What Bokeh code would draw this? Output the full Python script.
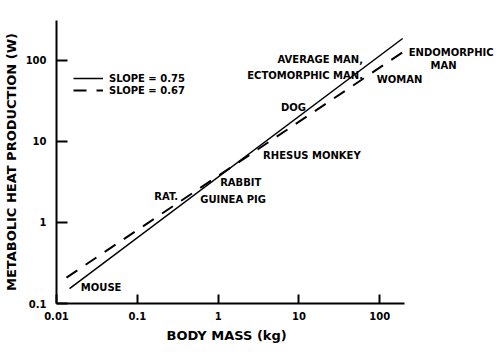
from bokeh.plotting import figure
from bokeh.models import (FixedTicker, CustomJSTickFormatter, Label, Legend,
                          LegendItem, Range1d, Title)
from bokeh.embed import file_html
from bokeh.resources import INLINE

# ---------------- data ----------------
# fitted allometric lines, given by their two end points
slope075_mass_kg = [0.0145, 192.0]
slope075_heat_w = [0.153, 186.0]
slope067_mass_kg = [0.0133, 209.0]
slope067_heat_w = [0.209, 133.0]

series_names = ["SLOPE = 0.75", "SLOPE = 0.67"]

x_tick_values = [0.01, 0.1, 1, 10, 100]
y_tick_values = [0.1, 1, 10, 100]

animal_names = ["MOUSE", "RAT.", "RABBIT", "GUINEA PIG", "RHESUS MONKEY", "DOG",
                "AVERAGE MAN,", "ECTOMORPHIC MAN.", "WOMAN", "ENDOMORPHIC", "MAN"]

# ---------------- layout of the annotation labels ----------------
label_x_kg = [0.02, 0.32, 1.06, 0.60, 3.6, 6.0, 62.0, 62.0, 92.0, 228.0, 617.0]
label_y_w = [0.158, 2.1, 3.12, 1.92, 6.7, 26.3, 103.0, 65.3, 58.2, 125.6, 86.7]
label_align = ["left", "right", "left", "left", "left", "left",
               "right", "right", "left", "left", "center"]

FONT = "DejaVu Sans"

p = figure(width=500, height=357, x_axis_type="log", y_axis_type="log",
           x_range=Range1d(0.01, 3120), y_range=Range1d(0.1, 310),
           output_backend="svg", toolbar_location=None,
           min_border_left=55, min_border_right=0,
           min_border_top=20, min_border_bottom=54)
p.outline_line_color = None
p.grid.visible = False
p.background_fill_color = "white"
p.border_fill_color = "white"

for ax, ticks in ((p.xaxis[0], x_tick_values), (p.yaxis[0], y_tick_values)):
    ax.ticker = FixedTicker(ticks=ticks, minor_ticks=[])
    ax.formatter = CustomJSTickFormatter(code="return tick.toString()")
    ax.axis_line_width = 2
    ax.axis_line_color = "black"
    ax.major_tick_line_width = 2
    ax.major_tick_line_color = "black"
    ax.major_tick_out = 0
    ax.minor_tick_line_color = None
    ax.major_label_text_font = FONT
    ax.major_label_text_font_size = "10px"
    ax.major_label_text_font_style = "bold"
    ax.major_label_text_color = "black"

p.xaxis.bounds = (0.01, 200)
p.xaxis.major_tick_in = 9
p.yaxis.major_tick_in = 11
p.xaxis.major_label_standoff = 8
p.yaxis.major_label_standoff = 10

p.yaxis.axis_label = "METABOLIC HEAT PRODUCTION (W)"
p.yaxis.axis_label_standoff = 4
p.yaxis.axis_label_text_font = FONT
p.yaxis.axis_label_text_font_size = "13px"
p.yaxis.axis_label_text_font_style = "bold"
p.yaxis.axis_label_text_color = "black"

xtitle = Title(text="BODY MASS (kg)", align="left", offset=110, standoff=6,
               text_font=FONT, text_font_size="13px", text_font_style="bold",
               text_color="black")
p.add_layout(xtitle, "below")

r1 = p.line(slope075_mass_kg, slope075_heat_w, line_color="black", line_width=1.5)
r2 = p.line(slope067_mass_kg, slope067_heat_w, line_color="black", line_width=2,
            line_dash="13 10")

legend = Legend(items=[LegendItem(label=series_names[0], renderers=[r1]),
                       LegendItem(label=series_names[1], renderers=[r2])],
                location=(17, 207), glyph_width=30, glyph_height=12,
                label_height=12, label_standoff=6, spacing=0, padding=0,
                margin=0, border_line_color=None, background_fill_alpha=0,
                label_text_font=FONT, label_text_font_size="10px",
                label_text_font_style="bold", label_text_color="black")
p.add_layout(legend)

for name, lx, ly, al in zip(animal_names, label_x_kg, label_y_w, label_align):
    p.add_layout(Label(x=lx, y=ly, text=name, text_align=al,
                       text_baseline="middle", text_font=FONT,
                       text_font_size="10px", text_font_style="bold",
                       text_color="black"))

open("out.html", "w").write(file_html(p, INLINE))
